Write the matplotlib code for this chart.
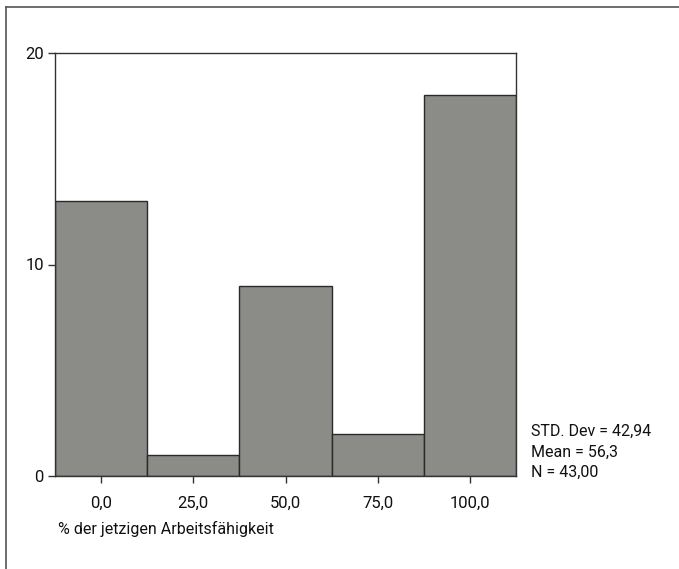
import matplotlib
matplotlib.use("Agg")
import matplotlib.pyplot as plt
from matplotlib.lines import Line2D

plt.rcParams['font.family'] = ['Roboto', 'DejaVu Sans']

bin_centers = [0, 25, 50, 75, 100]
counts = [13, 1, 9, 2, 18]
tick_labels = ['0,0', '25,0', '50,0', '75,0', '100,0']
y_ticks = [0, 10, 20]
stats_text = 'STD. Dev = 42,94\nMean = 56,3\nN = 43,00'
xlabel = '% der jetzigen Arbeitsfähigkeit'

fig = plt.figure(figsize=(6.79, 5.69), dpi=100)
ax = fig.add_axes([55/679, 1-476/569, 461/679, 423/569])
ax.bar(bin_centers, counts, width=25, color='#8b8c88', edgecolor='#2a2a2a', linewidth=1.0)
ax.set_xlim(-12.5, 112.5)
ax.set_ylim(0, 20)
ax.set_xticks(bin_centers)
ax.set_xticklabels(tick_labels)
ax.set_yticks(y_ticks)
for s in ax.spines.values():
    s.set_color('#333333')
    s.set_linewidth(1.0)
ax.tick_params(axis='both', direction='out', length=5, width=1.0, color='#333333',
               labelsize=12, labelcolor='#111111')
ax.tick_params(axis='x', pad=9)
ax.tick_params(axis='y', pad=3)

fig.text(58/679, 1-529/569, xlabel, fontsize=11.5, ha='left', va='center', color='#111111')
fig.text(531/679, 1-452/569, stats_text, fontsize=11.5, ha='left', va='center',
         linespacing=1.45, color='#111111')

# outer frame (left and top)
fig.add_artist(Line2D([6/679, 6/679], [0, 1-7/569], transform=fig.transFigure, color='#555555', lw=1.2))
fig.add_artist(Line2D([6/679, 1], [1-7/569, 1-7/569], transform=fig.transFigure, color='#555555', lw=1.2))

fig.savefig('out.png', dpi=100)
